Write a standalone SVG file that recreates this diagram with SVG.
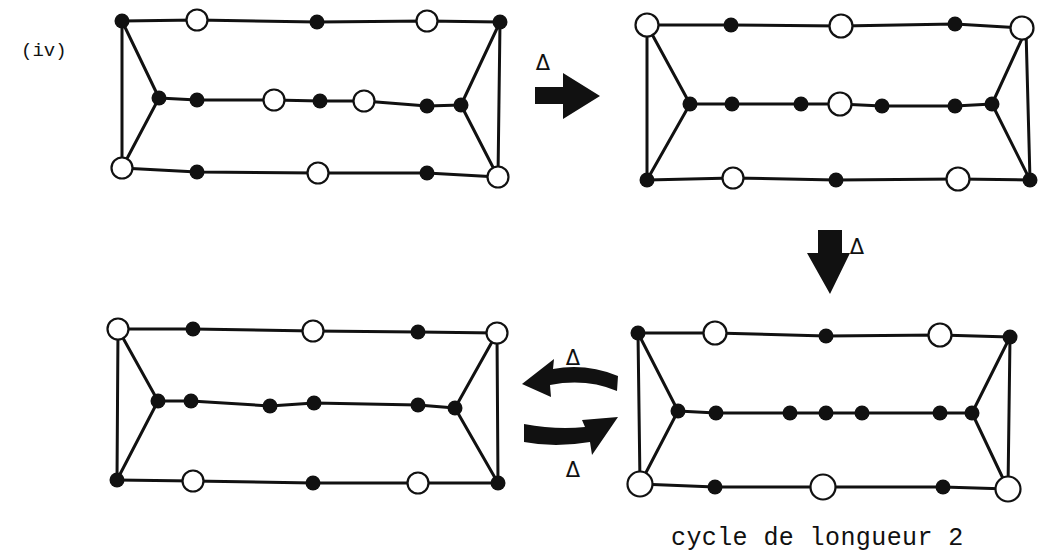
<svg xmlns="http://www.w3.org/2000/svg" width="1041" height="556" viewBox="0 0 1041 556">
<style>
.e{stroke:#111;stroke-width:3;fill:none;stroke-linecap:round;stroke-linejoin:round}
.b{fill:#111}
.w{fill:#fff;stroke:#111;stroke-width:2.2}
.arr{fill:#111}
.d{font-family:"DejaVu Sans","Liberation Sans",sans-serif;font-size:21px;fill:#111;text-anchor:middle}
.t{font-family:"Liberation Mono","DejaVu Sans Mono",monospace;fill:#111}
</style>
<rect width="1041" height="556" fill="#fff"/>
<text class="t" x="21" y="56" font-size="19">(iv)</text>
<text class="t" x="671" y="545" font-size="25" letter-spacing="0.4">cycle de longueur 2</text>
<g id="connectors">
<!-- graph 1 -->
<polyline class="e" points="122,21 197,20 317,22 427,21 500,22"/>
<polyline class="e" points="159,98 197,100 274,100 320,101 364,101 427,106 461,105"/>
<polyline class="e" points="122,168 197,172 318,173 427,173 498,177"/>
<polyline class="e" points="122,168 122,21 159,98 122,168"/>
<polyline class="e" points="498,177 500,22 461,105 498,177"/>
<!-- graph 2 -->
<polyline class="e" points="647,25 731,25 841,26 955,24 1022,28"/>
<polyline class="e" points="690,104 732,104 801,104 840,104 882,106 955,106 992,104"/>
<polyline class="e" points="647,180 733,178 836,180 958,179 1030,180"/>
<polyline class="e" points="647,180 647,25 690,104 647,180"/>
<polyline class="e" points="1030,180 1026,30 992,104 1030,180"/>
<!-- graph 3 -->
<polyline class="e" points="118,329 193,329 313,331 418,332 497,333"/>
<polyline class="e" points="158,401 191,401 270,406 314,403 418,405 455,408"/>
<polyline class="e" points="117,480 193,481 313,483 418,483 498,483"/>
<polyline class="e" points="117,480 118,329 158,401 117,480"/>
<polyline class="e" points="498,483 497,333 455,408 498,483"/>
<!-- graph 4 -->
<polyline class="e" points="638,333 715,333 826,336 940,335 1010,337"/>
<polyline class="e" points="678,411 716,413 790,413 826,413 862,413 940,413 972,413"/>
<polyline class="e" points="640,484 715,487 823,487 943,487 1008,489"/>
<polyline class="e" points="640,484 638,333 678,411 640,484"/>
<polyline class="e" points="1008,489 1010,337 972,413 1008,489"/>
<!-- transition arrows -->
<path class="arr" d="M535,87 L563,87 L563,73 L600,96 L563,119 L563,104 L535,104 Z"/>
<path class="arr" d="M818,230 L842,230 L842,253 L850,253 L830,294 L807,253 L818,253 Z"/>
<path class="arr" d="M618,376 Q586,363 553,369 L554,359 L522,384 L551,397 L550,385 Q586,378 617,391 Z"/>
<path class="arr" d="M524,424 Q556,430 585,427 L582,420 L618,417 L592,455 L590,442 Q555,448 524,442 Z"/>
<text class="d" x="543" y="70">Δ</text>
<text class="d" x="857" y="254">Δ</text>
<text class="d" x="573" y="365">Δ</text>
<text class="d" x="573" y="477">Δ</text>
</g>
<g id="graph1">
<circle class="b" cx="122" cy="21" r="7.5"/><circle class="w" cx="197" cy="20" r="10.5"/><circle class="b" cx="317" cy="22" r="7.5"/><circle class="w" cx="427" cy="21" r="10.5"/><circle class="b" cx="500" cy="22" r="7.5"/>
<circle class="b" cx="159" cy="98" r="7.5"/><circle class="b" cx="197" cy="100" r="7.5"/><circle class="w" cx="274" cy="100" r="10.5"/><circle class="b" cx="320" cy="101" r="7.5"/><circle class="w" cx="364" cy="101" r="10.5"/><circle class="b" cx="427" cy="106" r="7.5"/><circle class="b" cx="461" cy="105" r="7.5"/>
<circle class="w" cx="122" cy="168" r="10.5"/><circle class="b" cx="197" cy="172" r="7.5"/><circle class="w" cx="318" cy="173" r="10.5"/><circle class="b" cx="427" cy="173" r="7.5"/><circle class="w" cx="498" cy="177" r="10.5"/>
</g>
<g id="graph2">
<circle class="w" cx="647" cy="25" r="11.5"/><circle class="b" cx="731" cy="25" r="7.5"/><circle class="w" cx="841" cy="26" r="11.5"/><circle class="b" cx="955" cy="24" r="7.5"/><circle class="w" cx="1022" cy="28" r="11.5"/>
<circle class="b" cx="690" cy="104" r="7.5"/><circle class="b" cx="732" cy="104" r="7.5"/><circle class="b" cx="801" cy="104" r="7.5"/><circle class="w" cx="840" cy="104" r="11.5"/><circle class="b" cx="882" cy="106" r="7.5"/><circle class="b" cx="955" cy="106" r="7.5"/><circle class="b" cx="992" cy="104" r="7.5"/>
<circle class="b" cx="647" cy="180" r="7.5"/><circle class="w" cx="733" cy="178" r="10.5"/><circle class="b" cx="836" cy="180" r="7.5"/><circle class="w" cx="958" cy="179" r="11.5"/><circle class="b" cx="1030" cy="180" r="7.5"/>
</g>
<g id="graph3">
<circle class="w" cx="118" cy="329" r="10.5"/><circle class="b" cx="193" cy="329" r="7.5"/><circle class="w" cx="313" cy="331" r="10.5"/><circle class="b" cx="418" cy="332" r="7.5"/><circle class="w" cx="497" cy="333" r="10.5"/>
<circle class="b" cx="158" cy="401" r="7.5"/><circle class="b" cx="191" cy="401" r="7.5"/><circle class="b" cx="270" cy="406" r="7.5"/><circle class="b" cx="314" cy="403" r="7.5"/><circle class="b" cx="418" cy="405" r="7.5"/><circle class="b" cx="455" cy="408" r="7.5"/>
<circle class="b" cx="117" cy="480" r="7.5"/><circle class="w" cx="193" cy="481" r="10.5"/><circle class="b" cx="313" cy="483" r="7.5"/><circle class="w" cx="418" cy="483" r="10.5"/><circle class="b" cx="498" cy="483" r="7.5"/>
</g>
<g id="graph4">
<circle class="b" cx="638" cy="333" r="7.5"/><circle class="w" cx="715" cy="333" r="11.5"/><circle class="b" cx="826" cy="336" r="7.5"/><circle class="w" cx="940" cy="335" r="11.5"/><circle class="b" cx="1010" cy="337" r="7.5"/>
<circle class="b" cx="678" cy="411" r="7.5"/><circle class="b" cx="716" cy="413" r="7.5"/><circle class="b" cx="790" cy="413" r="7.5"/><circle class="b" cx="826" cy="413" r="7.5"/><circle class="b" cx="862" cy="413" r="7.5"/><circle class="b" cx="940" cy="413" r="7.5"/><circle class="b" cx="972" cy="413" r="7.5"/>
<circle class="w" cx="640" cy="484" r="12.5"/><circle class="b" cx="715" cy="487" r="7.5"/><circle class="w" cx="823" cy="487" r="12.5"/><circle class="b" cx="943" cy="487" r="7.5"/><circle class="w" cx="1008" cy="489" r="12.5"/>
</g>
</svg>
